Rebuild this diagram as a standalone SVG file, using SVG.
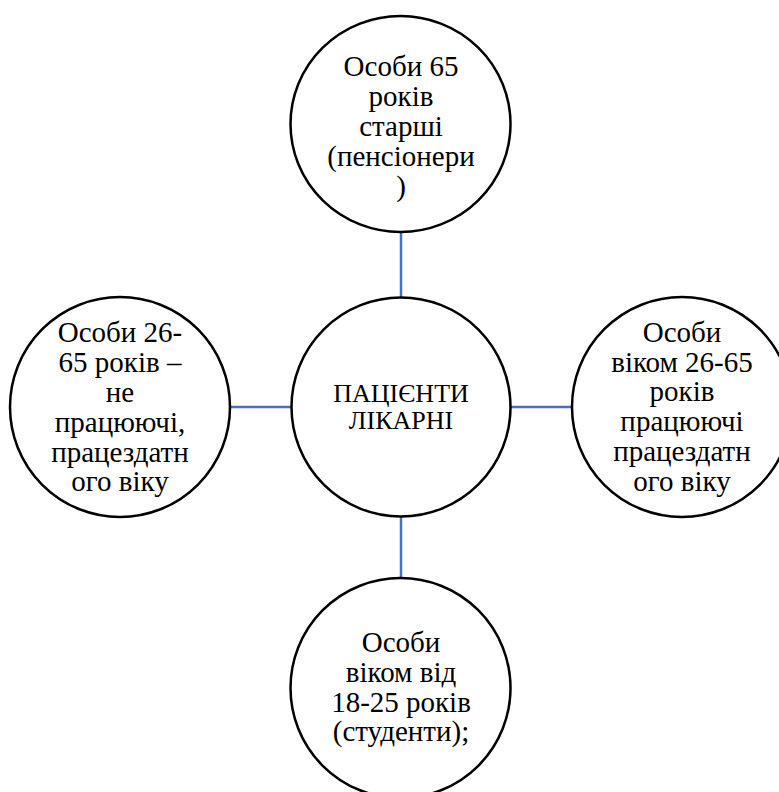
<svg xmlns="http://www.w3.org/2000/svg" width="779" height="792" viewBox="0 0 779 792">
<style>
.node circle, .node ellipse { fill: #ffffff; stroke: #000000; stroke-width: 2.5; }
.node text { font-family: "Liberation Serif", "Times New Roman", serif; font-size: 29px; fill: #000000; text-anchor: middle; }
.node text.c { font-size: 26px; }
.conn line { stroke: #4472C4; stroke-width: 2.5; }
</style>
<rect width="779" height="792" fill="#ffffff"/>
<g id="connectors" class="conn">
  <line x1="401" y1="232" x2="401" y2="298"/>
  <line x1="230" y1="407" x2="292" y2="407"/>
  <line x1="510" y1="407" x2="572" y2="407"/>
  <line x1="401" y1="516" x2="401" y2="578"/>
</g>
<g id="node-top" class="node">
  <ellipse cx="400.5" cy="124" rx="110" ry="108"/>
  <text x="401" y="76">Особи 65</text>
  <text x="401" y="106">років</text>
  <text x="401" y="136">старші</text>
  <text x="401" y="166">(пенсіонери</text>
  <text x="401" y="196">)</text>
</g>
<g id="node-center" class="node">
  <circle cx="401" cy="407" r="109.5"/>
  <text x="401" y="402" class="c">ПАЦІЄНТИ</text>
  <text x="401" y="429" class="c">ЛІКАРНІ</text>
</g>
<g id="node-left" class="node">
  <circle cx="120" cy="407" r="110"/>
  <text x="120" y="342">Особи 26-</text>
  <text x="120" y="372">65 років –</text>
  <text x="120" y="402">не</text>
  <text x="120" y="432">працюючі,</text>
  <text x="120" y="462">працездатн</text>
  <text x="120" y="491">ого віку</text>
</g>
<g id="node-right" class="node">
  <circle cx="682" cy="407" r="110"/>
  <text x="682" y="342">Особи</text>
  <text x="682" y="372">віком 26-65</text>
  <text x="682" y="401">років</text>
  <text x="682" y="431">працюючі</text>
  <text x="682" y="461">працездатн</text>
  <text x="682" y="491">ого віку</text>
</g>
<g id="node-bottom" class="node">
  <circle cx="400.5" cy="688" r="110"/>
  <text x="401" y="652">Особи</text>
  <text x="401" y="682">віком від</text>
  <text x="401" y="712">18-25 років</text>
  <text x="401" y="741">(студенти);</text>
</g>
</svg>
